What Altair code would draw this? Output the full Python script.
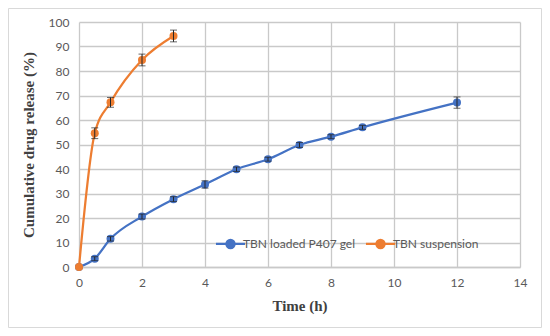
import altair as alt
import pandas as pd

gel_time = [0, 0.5, 1, 2, 3, 4, 5, 6, 7, 8, 9, 12]
gel_release = [0, 3.4, 11.5, 20.6, 27.7, 33.7, 39.9, 44.0, 49.8, 53.2, 57.0, 67.1]
gel_err = [0, 0.8, 0.9, 1.0, 1.0, 1.5, 0.9, 0.8, 1.0, 0.8, 0.8, 2.3]

susp_time = [0, 0.5, 1, 2, 3]
susp_release = [0, 54.6, 67.2, 84.5, 94.3]
susp_err = [0, 2.2, 2.0, 2.4, 2.4]

series = ["TBN loaded P407 gel", "TBN suspension"]
colors = ["#4472C4", "#ED7D31"]

rows = []
for t, v, e in zip(gel_time, gel_release, gel_err):
    rows.append({"series": series[0], "time": t, "release": v, "lo": v - e, "hi": v + e, "err": e})
for t, v, e in zip(susp_time, susp_release, susp_err):
    rows.append({"series": series[1], "time": t, "release": v, "lo": v - e, "hi": v + e, "err": e})
df = pd.DataFrame(rows)

W, H = 441, 245

xscale = alt.Scale(domain=[0, 14], nice=False, zero=False)
yscale = alt.Scale(domain=[0, 100], nice=False, zero=False)
xaxis = alt.Axis(values=list(range(0, 15, 2)), grid=True, labelOverlap=False, labelFlush=False,
                 gridColor="#c9c9c9", gridWidth=1.3, title="Time (h)")
yaxis = alt.Axis(values=list(range(0, 101, 10)), grid=True, labelOverlap=False, labelFlush=False,
                 gridColor="#c9c9c9", gridWidth=1.3, title="Cumulative drug release (%)")

X = alt.X("time:Q", scale=xscale, axis=xaxis)
Y = alt.Y("release:Q", scale=yscale, axis=yaxis)

color = alt.Color("series:N", scale=alt.Scale(domain=series, range=colors),
                  legend=alt.Legend(
                      orient="none", legendX=141, legendY=211, direction="horizontal",
                      title=None,
                      symbolType="M-1.6,0L1.6,0M-0.45,0A0.45,0.45 0 1,0 0.45,0A0.45,0.45 0 1,0 -0.45,0Z",
                      symbolSize=330, symbolStrokeWidth=2.25,
                      labelFont="Lato", labelFontSize=12, labelColor="#595959",
                      columnPadding=6, labelOffset=2))

base = alt.Chart(df)

lines = base.mark_line(strokeWidth=2.25, interpolate="monotone").encode(
    x=X, y=Y, color=color, detail="series:N")
points = base.mark_circle(size=64, opacity=1).encode(x=X, y=Y, color=color)
eb = base.transform_filter("datum.err > 0")
err_rules = eb.mark_rule(color="#262626", strokeWidth=1).encode(
    x=X, y=alt.Y("lo:Q", scale=yscale, axis=yaxis), y2="hi:Q")
cap_lo = eb.mark_tick(color="#262626", orient="horizontal", size=7, thickness=1).encode(
    x=X, y=alt.Y("lo:Q", scale=yscale, axis=yaxis))
cap_hi = eb.mark_tick(color="#262626", orient="horizontal", size=7, thickness=1).encode(
    x=X, y=alt.Y("hi:Q", scale=yscale, axis=yaxis))

frame = alt.Chart(pd.DataFrame({"k": [0]})).mark_rect(
    filled=False, stroke="#d9d9d9", strokeWidth=1
).encode(x=alt.value(-70.5), x2=alt.value(W + 21.5), y=alt.value(-13.5), y2=alt.value(H + 60.5))

chart = alt.layer(lines, points, err_rules, cap_lo, cap_hi, frame).properties(
    width=W, height=H,
    autosize=alt.AutoSizeParams(type="none"),
    padding={"left": 71, "top": 14, "right": 22, "bottom": 61},
).configure_view(stroke=None).configure_axis(
    labelFont="Lato", labelFontSize=12, labelColor="#595959",
    titleFont="Liberation Serif", titleFontSize=15, titleFontWeight="bold", titleColor="#404040",
    domain=False, ticks=False,
).configure_axisX(
    labelPadding=10, titlePadding=10, domain=True, domainColor="#c9c9c9", domainWidth=1.3,
).configure_axisY(
    labelPadding=10, titlePadding=12,
)

chart.save("out.html", embed_options={"renderer": "svg", "actions": False})
